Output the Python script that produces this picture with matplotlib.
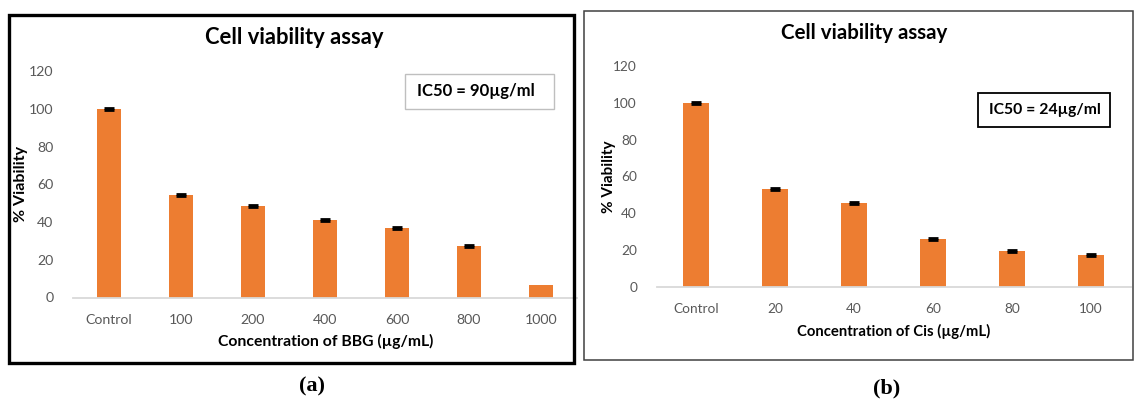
import matplotlib
matplotlib.use('Agg')
import matplotlib.pyplot as plt
from matplotlib.patches import Rectangle

# panel (a): BBG
bbg_labels = ['Control', '100', '200', '400', '600', '800', '1000']
bbg_viability = [100, 54.2, 48.3, 41.0, 36.6, 27.4, 6.7]
bbg_err = [0.5, 0.5, 0.5, 0.5, 0.5, 0.5, 0.0]

# panel (b): Cisplatin
cis_labels = ['Control', '20', '40', '60', '80', '100']
cis_viability = [100, 53.3, 45.3, 25.8, 19.3, 17.2]
cis_err = [0.5, 0.5, 0.5, 0.5, 0.5, 0.5]

ORANGE = '#ED7D31'
GRAY_TXT = '#595959'
W, H = 1135, 403

plt.rcParams['font.family'] = ['Lato', 'DejaVu Sans']

fig = plt.figure(figsize=(W / 100, H / 100), dpi=100)


def px_axes(x0, x1, y_top, y_bot):
    return fig.add_axes([x0 / W, (H - y_bot) / H, (x1 - x0) / W, (y_bot - y_top) / H])


def draw_panel(ax, labels, vals, errs, tick_fs):
    x = list(range(len(labels)))
    ax.bar(x, vals, width=0.32, color=ORANGE, zorder=2)
    # only draw error bars where an error was reported
    ex = [i for i in x if errs[i] > 0]
    ax.errorbar(ex, [vals[i] for i in ex], yerr=[errs[i] for i in ex], fmt='none',
                ecolor='black', elinewidth=2, capsize=3.4, capthick=2, zorder=3)
    ax.set_xlim(-0.5, len(labels) - 0.5)
    ax.set_ylim(0, 120)
    ax.set_yticks(range(0, 121, 20))
    ax.set_xticks(x)
    ax.set_xticklabels(labels)
    for s in ['top', 'right', 'left']:
        ax.spines[s].set_visible(False)
    ax.spines['bottom'].set_color('#D9D9D9')
    ax.spines['bottom'].set_linewidth(1.3)
    ax.tick_params(length=0, labelsize=tick_fs, colors=GRAY_TXT, pad=12)
    ax.tick_params(axis='y', pad=14)
    ax.patch.set_alpha(0)


# --- panel (a) ---
ax1 = px_axes(73, 577, 71, 297.5)
draw_panel(ax1, bbg_labels, bbg_viability, bbg_err, 10.2)
fig.text(294 / W, 1 - 37 / H, 'Cell viability assay', ha='center', va='center',
         fontsize=15.8, fontweight='bold')
fig.text(21 / W, 1 - 184 / H, '% Viability', rotation=90, ha='center', va='center',
         fontsize=11.5, fontweight='bold')
fig.text(326 / W, 1 - 341 / H, 'Concentration of BBG (µg/mL)', ha='center', va='center',
         fontsize=11.3, fontweight='bold')
fig.patches.append(Rectangle((405 / W, 1 - 109 / H), 149 / W, 35 / H, transform=fig.transFigure,
                             fill=False, edgecolor='#BFBFBF', linewidth=1.0))
fig.text(417 / W, 1 - 91 / H, 'IC50 = 90µg/ml', ha='left', va='center',
         fontsize=12, fontweight='bold')
fig.patches.append(Rectangle((9 / W, 1 - 362.5 / H), 564.5 / W, 348 / H, transform=fig.transFigure,
                             fill=False, edgecolor='black', linewidth=2.4, zorder=10))
fig.text(312 / W, 1 - 386 / H, '(a)', ha='center', va='center', fontsize=16,
         fontweight='bold', family='Liberation Serif')

# --- panel (b) ---
ax2 = px_axes(656.5, 1130.5, 66.3, 286.5)
draw_panel(ax2, cis_labels, cis_viability, cis_err, 9.8)
fig.text(864 / W, 1 - 33 / H, 'Cell viability assay', ha='center', va='center',
         fontsize=14.8, fontweight='bold')
fig.text(609 / W, 1 - 177 / H, '% Viability', rotation=90, ha='center', va='center',
         fontsize=11, fontweight='bold')
fig.text(894 / W, 1 - 331 / H, 'Concentration of Cis (µg/mL)', ha='center', va='center',
         fontsize=10.7, fontweight='bold')
fig.patches.append(Rectangle((978 / W, 1 - 127 / H), 132 / W, 34 / H, transform=fig.transFigure,
                             fill=False, edgecolor='black', linewidth=1.3))
fig.text(989 / W, 1 - 110 / H, 'IC50 = 24µg/ml', ha='left', va='center',
         fontsize=11.3, fontweight='bold')
fig.patches.append(Rectangle((584 / W, 1 - 359.5 / H), 549 / W, 348.5 / H, transform=fig.transFigure,
                             fill=False, edgecolor='#404040', linewidth=1.1, zorder=10))
fig.text(887 / W, 1 - 388 / H, '(b)', ha='center', va='center', fontsize=16,
         fontweight='bold', family='Liberation Serif')

fig.savefig('out.png', dpi=100)
